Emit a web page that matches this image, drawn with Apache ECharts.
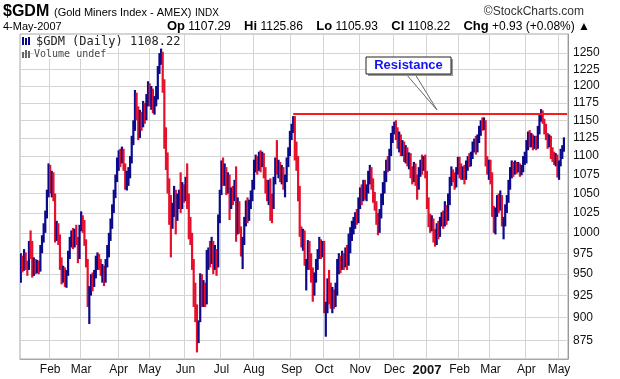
<!DOCTYPE html>
<html><head><meta charset="utf-8">
<script src="https://cdn.jsdelivr.net/npm/echarts@6/dist/echarts.min.js"></script>
<style>html,body{margin:0;padding:0;background:#fff}#c{width:620px;height:379px}</style>
</head><body><div id="c"></div>
<script>
// ---- calendar (trading days) ----
const firstDay = '2006-01-05';
const lastDay = '2007-05-04';
const holidays = ['2006-01-16','2006-02-20','2006-04-14','2006-05-29','2006-07-04','2006-09-04',
  '2006-11-23','2006-12-25','2007-01-01','2007-01-02','2007-01-15','2007-02-19','2007-04-06'];
const monthNames = ['Jan','Feb','Mar','Apr','May','Jun','Jul','Aug','Sep','Oct','Nov','Dec'];
const yTicks = [875,900,925,950,975,1000,1025,1050,1075,1100,1125,1150,1175,1200,1225,1250];
const resistanceLevel = 1159;
const resistanceFrom = '2006-09-05';

// ---- daily OHLC ----
const opens = [
 945,965,958,972,960,955,995,985,952,965,958,962,955,978,992,1005,1022,1048,
 1078,1062,1070,1048,1000,1010,995,962,948,955,942,950,972,990,998,985,1000,992,970,
 1005,1020,1010,990,965,918,930,942,938,948,965,970,960,952,958,945,962,975,995,1010,1030,1048,1068,
 1090,1100,1095,1105,1085,1062,1070,1078,1095,1120,1140,1185,1165,1130,1158,1145,1170,1155,1180,
 1195,1180,1190,1165,1178,1185,1225,1242,1250,1205,1130,1095,1065,1040,1010,1030,1052,1025,1040,1048,1035,1055,
 1045,1065,1045,1010,995,965,935,905,878,895,945,925,930,920,960,975,968,985,960,975,960,1015,
 1050,1085,1070,1075,1060,1070,1040,1050,1045,1075,1000,1035,1005,980,990,1012,1035,1020,1035,1045,
 1060,1085,1095,1085,1098,1090,1100,1078,1060,1050,1062,1040,1035,1068,1090,1080,1088,1072,1080,1065,1070,1090,1105,
 1128,1140,1150,1110,1095,1050,1000,990,1000,955,960,985,968,950,935,945,960,975,985,975,
 985,905,910,935,925,915,925,918,930,955,965,958,968,960,970,965,985,995,1005,1012,1020,1015,
 1035,1050,1045,1058,1048,1055,1070,1080,1065,1045,1035,1018,1010,1025,1040,1058,1070,1088,1085,1105,1125,
 1135,1142,1130,1120,1128,1110,1118,1100,1108,1095,1100,1080,1070,1085,1072,1058,1078,1090,1085,1095,
 1078,1040,1020,1010,1015,995,988,1005,998,1015,1022,1012,1030,1018,1040,1065,1078,1070,1062,1080,
 1092,1085,1075,1082,1072,1088,1095,1090,1100,1112,1118,1110,1122,1135,1145,1140,1148,1095,1085,
 1090,1072,1030,1005,1025,1040,1030,1045,1000,1012,1030,1042,1060,1078,1085,1080,1090,1082,1088,1078,1082,1095,
 1102,1115,1128,1120,1125,1115,1122,1112,1135,1155,1162,1150,1138,1128,1118,1125,1105,1100,1095,1100,
 1080,1090,1102,1107.29
];
const closes = [
 965,958,972,960,955,978,985,952,965,958,962,955,978,992,1005,1022,1048,1078,
 1062,1070,1048,1000,1010,995,962,948,955,942,950,972,990,998,985,1000,992,970,1005,
 1020,1010,990,965,930,930,942,938,948,965,970,960,952,958,945,962,975,995,1010,1030,1048,1068,1090,
 1100,1095,1105,1085,1062,1070,1078,1095,1120,1140,1185,1165,1130,1158,1145,1170,1155,1180,1195,
 1180,1190,1165,1178,1185,1225,1242,1250,1205,1130,1095,1065,1040,1010,1030,1052,1025,1040,1048,1035,1055,1045,
 1065,1045,1010,995,965,935,905,880,890,945,925,930,920,960,975,968,985,960,975,958,1015,1050,
 1085,1070,1075,1060,1070,1040,1050,1045,1060,1000,1035,1005,985,990,1012,1035,1020,1035,1045,1060,
 1085,1095,1085,1098,1090,1100,1078,1060,1050,1062,1040,1035,1068,1090,1080,1088,1072,1080,1065,1070,1090,1105,1128,
 1140,1150,1110,1095,1050,1000,990,1000,965,960,985,968,950,935,945,960,975,985,975,985,
 915,910,935,925,915,925,918,930,955,965,958,968,960,970,965,985,995,1005,1012,1020,1015,1035,
 1050,1045,1058,1048,1055,1070,1080,1065,1045,1035,1018,1010,1025,1040,1058,1070,1088,1085,1105,1125,1135,
 1142,1130,1120,1128,1110,1118,1100,1108,1095,1100,1080,1070,1085,1072,1058,1078,1090,1085,1095,1078,
 1040,1020,1010,1015,995,988,1005,998,1015,1022,1012,1030,1018,1040,1065,1078,1070,1062,1080,1092,
 1085,1075,1082,1072,1088,1095,1090,1100,1112,1118,1110,1122,1135,1145,1140,1148,1095,1085,1090,
 1072,1030,1005,1025,1040,1030,1045,1015,1012,1030,1042,1060,1078,1085,1080,1090,1082,1088,1078,1082,1095,1102,
 1115,1128,1120,1125,1115,1122,1112,1135,1155,1162,1150,1138,1128,1118,1125,1105,1100,1095,1100,1080,
 1090,1102,1107.29,1108.22
];
const lows = [
 940,952,954,955,948,955,968,946,948,950,951,950,953,975,988,1000,1018,1045,
 1050,1045,1040,988,990,985,955,938,940,935,934,948,968,982,980,982,985,963,968,
 1002,1000,984,958,912,893,925,930,935,945,955,955,948,940,936,940,958,970,990,1005,1025,1044,1065,
 1080,1085,1090,1080,1055,1054,1060,1070,1090,1115,1135,1150,1122,1125,1135,1140,1145,1150,1170,
 1170,1165,1160,1158,1170,1180,1218,1232,1190,1110,1081,1050,1010,970,1005,1020,998,1015,1030,1025,1030,1038,
 1040,1030,992,985,955,912,895,862,872,895,912,912,912,915,955,958,962,950,955,948,958,1012,
 1048,1060,1060,1048,1050,1016,1030,1035,1040,989,998,999,971,956,985,1008,1012,1015,1030,1040,
 1055,1078,1075,1080,1078,1085,1070,1050,1040,1035,1015,1012,1030,1062,1075,1070,1065,1062,1055,1045,1065,1085,1100,
 1122,1132,1094,1080,1040,995,982,978,960,931,955,955,940,918,925,940,955,968,968,970,
 905,879,905,915,910,905,910,912,925,950,951,955,955,958,955,960,975,990,998,1005,1010,1012,
 1030,1035,1040,1042,1040,1050,1062,1055,1038,1028,1010,997,1000,1018,1035,1050,1065,1078,1080,1100,1118,
 1130,1122,1110,1105,1100,1100,1092,1090,1086,1082,1070,1062,1065,1060,1042,1055,1072,1075,1080,1070,
 1030,1007,1000,1002,988,983,985,992,995,1008,1005,1008,1010,1015,1035,1060,1065,1055,1058,1075,
 1070,1068,1068,1062,1068,1080,1085,1086,1096,1105,1102,1105,1118,1128,1135,1136,1086,1075,1068,
 1062,1020,1000,998,1020,1025,1028,1008,992,1008,1025,1038,1055,1070,1072,1075,1076,1078,1072,1074,1078,1088,
 1090,1108,1112,1112,1108,1110,1108,1110,1130,1148,1145,1130,1122,1110,1112,1096,1092,1088,1086,1071,
 1068,1086,1096,1105.93
];
const highs = [
 975,972,980,976,966,990,1003,990,970,968,967,966,985,997,1012,1028,1055,1090,
 1088,1080,1078,1050,1015,1012,998,970,960,958,955,978,995,1003,1006,1005,1010,995,1010,
 1027,1022,1016,992,968,936,950,952,955,972,976,974,968,962,960,968,985,1000,1018,1036,1055,1075,1098,
 1108,1110,1113,1110,1090,1080,1085,1100,1128,1150,1194,1190,1170,1165,1162,1178,1175,1188,1207,
 1204,1200,1196,1185,1200,1230,1250,1257,1252,1210,1140,1105,1070,1048,1038,1060,1055,1050,1055,1078,1065,1062,
 1072,1090,1050,1020,1000,968,940,915,897,951,950,943,940,979,982,990,995,990,985,980,1023,1055,
 1094,1098,1090,1085,1078,1075,1058,1060,1068,1086,1045,1040,1008,995,1020,1041,1045,1042,1054,1068,
 1095,1102,1100,1106,1108,1106,1104,1085,1068,1068,1070,1050,1072,1098,1122,1095,1092,1088,1085,1075,1098,1112,1135,
 1145,1156,1156,1120,1100,1060,1008,1005,1003,968,991,990,975,958,952,968,980,995,992,990,
 990,918,945,955,940,935,932,940,968,975,972,978,975,982,985,999,1007,1015,1020,1026,1030,1045,
 1058,1062,1068,1068,1062,1080,1088,1085,1070,1052,1040,1025,1030,1050,1065,1080,1095,1100,1110,1132,1142,
 1148,1150,1140,1134,1130,1122,1120,1115,1112,1105,1104,1086,1092,1090,1075,1085,1095,1102,1100,1102,
 1080,1045,1024,1022,1018,1005,1012,1015,1020,1026,1028,1040,1035,1050,1072,1086,1082,1078,1085,1099,
 1099,1090,1086,1088,1094,1100,1104,1106,1120,1124,1128,1130,1142,1150,1154,1154,1150,1100,1095,
 1095,1078,1034,1032,1048,1050,1054,1048,1020,1036,1048,1068,1085,1094,1092,1094,1092,1092,1090,1088,1100,1106,
 1122,1134,1136,1132,1130,1128,1128,1142,1160,1166,1164,1152,1145,1132,1130,1128,1112,1106,1104,1102,
 1094,1110,1115,1125.86
];

// ---- build category dates ----
function fmt(d){return d.toISOString().slice(0,10);}
const dates = [];
(function(){
  let d = new Date(firstDay+'T00:00:00Z');
  const end = new Date(lastDay+'T00:00:00Z');
  let extra = 0;
  while (true) {
    const wd = d.getUTCDay();
    const s = fmt(d);
    if (wd !== 0 && wd !== 6 && holidays.indexOf(s) < 0) {
      if (d <= end) dates.push(s);
      else { dates.push(s); extra++; if (extra >= 2) break; }
    }
    d = new Date(d.getTime() + 86400000);
  }
})();
const isMonthStart = dates.map((s,i)=> i>0 && s.slice(5,7) !== dates[i-1].slice(5,7));

const bars = closes.map((c,i)=>[i, opens[i], closes[i], lows[i], highs[i]]);

const BLUE = '#0a0a8a', RED = '#e5102c';

function renderItem(params, api){
  const i = api.value(0);
  const o = api.value(1), c = api.value(2), l = api.value(3), h = api.value(4);
  const pl = api.coord([i, l]);
  const ph = api.coord([i, h]);
  const color = c >= o ? BLUE : RED;
  return {
    type:'rect',
    shape:{x: pl[0]-1.1, y: ph[1], width: 2.2, height: Math.max(1, pl[1]-ph[1])},
    style:{fill: color}
  };
}

const chart = echarts.init(document.getElementById('c'), null, {renderer:'canvas'});
const FONT = '"Liberation Sans", Arial, sans-serif';

chart.setOption({
  animation:false,
  backgroundColor:'#ffffff',
  grid:{left:20, right:52, top:34, bottom:20, show:true, borderColor:'#a8a8a8', borderWidth:1, backgroundColor:'#fff'},
  xAxis:{
    type:'category', data:dates, boundaryGap:true,
    axisLine:{show:true, lineStyle:{color:'#a8a8a8'}},
    axisTick:{show:false},
    axisLabel:{
      interval:(idx)=>isMonthStart[idx],
      margin:5,
      color:'#111', fontFamily:FONT, fontSize:12,
      formatter:(v)=>{ const m = +v.slice(5,7); return m===1 ? '{y|'+v.slice(0,4)+'}' : monthNames[m-1]; },
      rich:{y:{fontWeight:'bold', fontSize:13, color:'#111', fontFamily:FONT}}
    },
    splitLine:{show:true, interval:(idx)=>isMonthStart[idx], lineStyle:{color:'#d4d4d4', width:1}}
  },
  yAxis:{
    type:'log', logBase:10, min:855, max:1280, position:'right',
    axisLine:{show:true, lineStyle:{color:'#999'}},
    axisTick:{show:false, customValues:yTicks},
    axisLabel:{customValues:yTicks, margin:5, color:'#111', fontFamily:FONT, fontSize:12,
      formatter:(v)=>String(Math.round(v))},
    splitLine:{show:true, lineStyle:{color:'#d4d4d4', width:1}}
  },
  series:[{
    type:'custom', name:'$GDM', data:bars, renderItem:renderItem,
    encode:{x:0, y:[1,2,3,4]}, clip:true,
    markLine:{
      silent:true, symbol:['none','none'], label:{show:false},
      lineStyle:{color:'#ff1a1a', width:2, type:'solid'},
      data:[[{coord:[resistanceFrom, resistanceLevel]}, {coord:[dates[dates.length-1], resistanceLevel]}]]
    }
  }],
  graphic:[
    {type:'text', left:3, top:4, style:{text:'$GDM', font:'bold 16px '+FONT, fill:'#000'}},
    {type:'text', left:54, top:7, style:{text:'(Gold Miners Index - AMEX)', font:'11px '+FONT, fill:'#000'}},
    {type:'text', left:195, top:8, style:{text:'INDX', font:'10px '+FONT, fill:'#000'}},
    {type:'text', right:36, top:6, style:{text:'\u00A9StockCharts.com', font:'12px '+FONT, fill:'#333'}},
    {type:'text', left:3, top:21, style:{text:'4-May-2007', font:'11px '+FONT, fill:'#000'}},
    {type:'text', right:30, top:20, style:{
      text:'{b|Op} 1107.29    {b|Hi} 1125.86    {b|Lo} 1105.93    {b|Cl} 1108.22    {b|Chg} +0.93 (+0.08%) \u25B2',
      font:'12px '+FONT, fill:'#000', rich:{b:{font:'bold 13px '+FONT, fill:'#000'}}}},
    // legend inside plot
    {type:'rect', shape:{x:22, y:37, width:2, height:8}, style:{fill:BLUE}, z:50},
    {type:'rect', shape:{x:25, y:38, width:2, height:7}, style:{fill:BLUE}, z:50},
    {type:'rect', shape:{x:28, y:37, width:2, height:8}, style:{fill:BLUE}, z:50},
    {type:'text', left:36, top:36, z:50, style:{text:'$GDM (Daily) 1108.22', font:'12px "DejaVu Sans Mono", monospace', fill:'#222', backgroundColor:'#fff'}},
    {type:'rect', shape:{x:22, y:52, width:2, height:6}, style:{fill:'#666'}, z:50},
    {type:'rect', shape:{x:25, y:50, width:2, height:8}, style:{fill:'#666'}, z:50},
    {type:'rect', shape:{x:28, y:51, width:2, height:7}, style:{fill:'#666'}, z:50},
    {type:'text', left:34, top:49, z:50, style:{text:'Volume undef', font:'10px "DejaVu Sans Mono", monospace', fill:'#444', backgroundColor:'#fff'}},
    // Resistance annotation
    {type:'polygon', shape:{points:[[406,74],[437,110],[415,74]]}, style:{fill:'#fff', stroke:'#666', lineWidth:1}, z:100},
    {type:'rect', shape:{x:368, y:59, width:85, height:17}, style:{fill:'#999'}, z:100},
    {type:'rect', shape:{x:366, y:57, width:85, height:17}, style:{fill:'#fff', stroke:'#222', lineWidth:1}, z:101},
    {type:'text', x:408.5, y:65.5, style:{text:'Resistance', font:'bold 13px '+FONT, fill:'#1414f0', align:'center', verticalAlign:'middle'}, z:102}
  ]
});
</script>
</body></html>
